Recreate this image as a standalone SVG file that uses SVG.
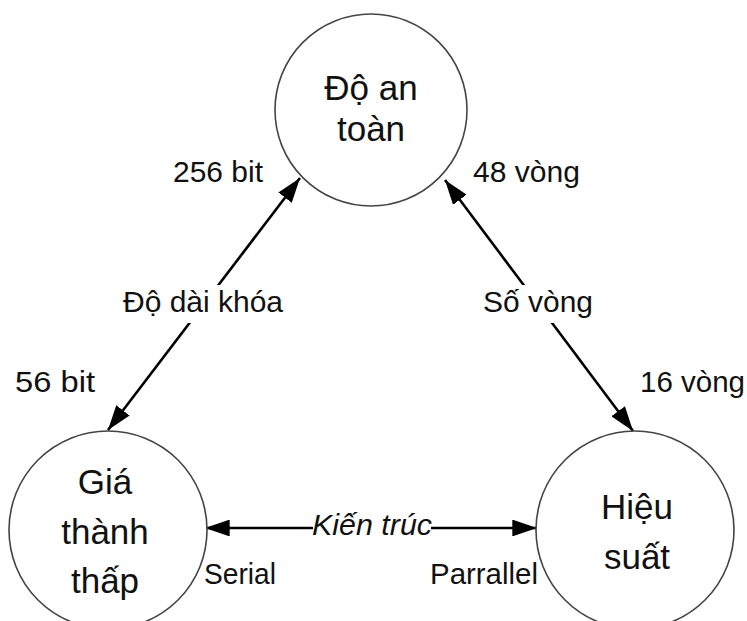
<svg xmlns="http://www.w3.org/2000/svg" width="747" height="621" viewBox="0 0 747 621">
<style>
.node{fill:#fff;stroke:#444;stroke-width:1.6}
.nt{font-family:"Liberation Sans",Arial,sans-serif;font-size:35px;fill:#111;text-anchor:middle}
.lb{font-family:"Liberation Sans",Arial,sans-serif;font-size:29px;fill:#111}
.ln{stroke:#000;stroke-width:2.6;fill:none;marker-start:url(#ah);marker-end:url(#ah)}
</style>
<defs>
<marker id="ah" viewBox="0 0 10 10" refX="10" refY="5" markerWidth="9.5" markerHeight="6.5" markerUnits="strokeWidth" orient="auto-start-reverse" preserveAspectRatio="none">
<path d="M0,0 L10,5 L0,10 z" fill="#000"/>
</marker>
</defs>
<rect width="747" height="621" fill="#fff"/>
<g id="connectors">
<line class="ln" x1="300" y1="178" x2="108" y2="430"/>
<line class="ln" x1="445" y1="180" x2="633" y2="431"/>
<line class="ln" x1="205" y1="528" x2="537" y2="528"/>
<rect x="118" y="285" width="170" height="38" fill="#fff"/>
<rect x="478" y="285" width="120" height="38" fill="#fff"/>
<rect x="313" y="508" width="118" height="36" fill="#fff"/>
<text class="lb" x="203" y="312" text-anchor="middle" textLength="160" lengthAdjust="spacingAndGlyphs">Độ dài khóa</text>
<text class="lb" x="538" y="312" text-anchor="middle" textLength="110" lengthAdjust="spacingAndGlyphs">Số vòng</text>
<text class="lb" x="372" y="535" text-anchor="middle" font-style="italic" textLength="120" lengthAdjust="spacingAndGlyphs">Kiến trúc</text>
<text class="lb" x="173" y="182" textLength="90" lengthAdjust="spacingAndGlyphs">256 bit</text>
<text class="lb" x="473" y="182" textLength="107" lengthAdjust="spacingAndGlyphs">48 vòng</text>
<text class="lb" x="15" y="392" textLength="80" lengthAdjust="spacingAndGlyphs">56 bit</text>
<text class="lb" x="640" y="392" textLength="105" lengthAdjust="spacingAndGlyphs">16 vòng</text>
<text class="lb" x="204" y="584" textLength="72" lengthAdjust="spacingAndGlyphs">Serial</text>
<text class="lb" x="430" y="584" textLength="108" lengthAdjust="spacingAndGlyphs">Parrallel</text>
</g>
<g id="node-top">
<circle class="node" cx="371" cy="110" r="96"/>
<text class="nt" x="371" y="100">Độ an</text>
<text class="nt" x="371" y="141">toàn</text>
</g>
<g id="node-left">
<circle class="node" cx="108" cy="530" r="99"/>
<text class="nt" x="105" y="494">Giá</text>
<text class="nt" x="105" y="544">thành</text>
<text class="nt" x="105" y="593">thấp</text>
</g>
<g id="node-right">
<circle class="node" cx="635" cy="530" r="99"/>
<text class="nt" x="637" y="519">Hiệu</text>
<text class="nt" x="637" y="569">suất</text>
</g>
</svg>
